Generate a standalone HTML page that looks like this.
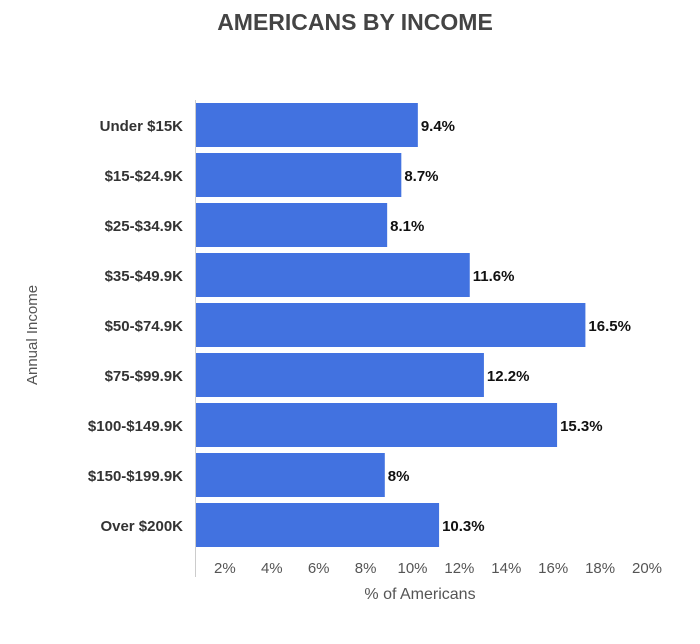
<!DOCTYPE html>
<html><head><meta charset="utf-8"><style>
body{margin:0;background:#fff;font-family:"Liberation Sans",sans-serif}
svg text{font-family:"Liberation Sans",sans-serif}
</style></head><body>
<svg id="c" width="700" height="639">
<text x="355" y="30" text-anchor="middle" font-size="23" font-weight="bold" fill="#444">AMERICANS BY INCOME</text>
<text transform="translate(37,335) rotate(-90)" text-anchor="middle" font-size="15" fill="#555">Annual Income</text>
<text x="420" y="599" text-anchor="middle" font-size="16" fill="#555">% of Americans</text>
<line x1="195.5" y1="100" x2="195.5" y2="577" stroke="#ccc"/>
<g id="bars"></g>
</svg>
<script>
const categories=["Under $15K","$15-$24.9K","$25-$34.9K","$35-$49.9K","$50-$74.9K","$75-$99.9K","$100-$149.9K","$150-$199.9K","Over $200K"];
const values=[9.4,8.7,8.1,11.6,16.5,12.2,15.3,8,10.3];
const valueLabels=["9.4%","8.7%","8.1%","11.6%","16.5%","12.2%","15.3%","8%","10.3%"];
const ticks=[2,4,6,8,10,12,14,16,18,20];
const tickLabels=["2%","4%","6%","8%","10%","12%","14%","16%","18%","20%"];
const NS="http://www.w3.org/2000/svg";
const g=document.getElementById('bars');
const x=v=>196+v*23.6;
const y=i=>103+i*50;
function mk(t,a){const e=document.createElementNS(NS,t);for(const k in a)e.setAttribute(k,a[k]);g.appendChild(e);return e;}
categories.forEach((c,i)=>{
 const r=mk('rect',{x:196,y:y(i),width:x(values[i])-196,height:44,fill:'#4272e0'});
 
 
 const l=mk('text',{x:183,y:y(i)+28,'text-anchor':'end','font-size':15,fill:'#333','font-weight':'bold'});l.textContent=c;
 
 
 const v=mk('text',{x:x(values[i])+3,y:y(i)+28,'font-size':15,fill:'#111','font-weight':'bold'});v.textContent=valueLabels[i];
 
 
});
ticks.forEach((t,i)=>{
 const e=mk('text',{x:178+t*23.45,y:573,'text-anchor':'middle','font-size':15,fill:'#555'});e.textContent=tickLabels[i];
 
 
});
</script>
</body></html>
